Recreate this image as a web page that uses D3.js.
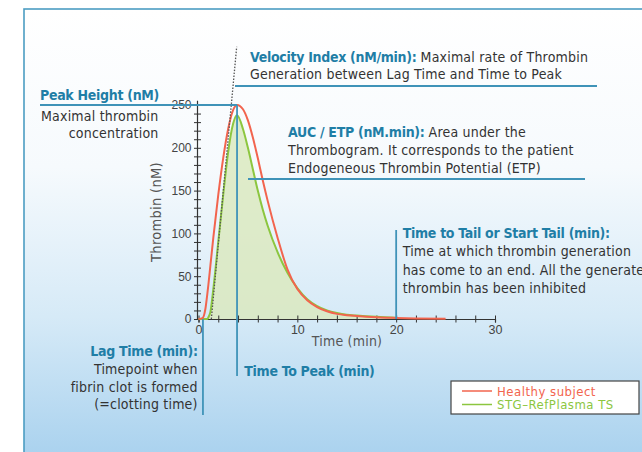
<!DOCTYPE html>
<html>
<head>
<meta charset="utf-8">
<script src="https://cdn.jsdelivr.net/npm/d3@7"></script>
<style>
  html, body { margin: 0; padding: 0; background: #fff; }
  svg { display: block; font-family: "DejaVu Sans Condensed", "DejaVu Sans", sans-serif; font-stretch: condensed; }
</style>
</head>
<body>
<script>
// thrombogram data (time in min, thrombin in nM)
const times = [0, 0.4, 0.7, 0.9, 1, 1.2, 1.5, 2, 2.5, 3, 3.5, 3.9, 4.5, 5, 5.5, 6, 6.5, 7, 8, 9, 10, 11, 12, 13, 14, 15, 16, 18, 20, 22, 25]
const healthy = [0, 1, 12, 30, 40, 62, 95, 145, 188, 222, 244, 250, 245, 232, 212, 188, 162, 138, 95, 58, 35, 22, 14, 9, 6, 4.5, 3.5, 2, 1.2, 0.6, 0.3]
const refPlasma = [0, 0, 0, 0, 2, 8, 35, 90, 145, 195, 228, 238, 222, 200, 175, 150, 128, 109, 78, 54, 36, 23, 15, 10, 7, 5, 4, 2.5, 1.5, null, null]
const xTicks = [0, 10, 20, 30]
const yTicks = [0, 50, 100, 150, 200, 250]
const legendLabels = ['Healthy subject', 'STG–RefPlasma TS']

// annotation values
const peakTime = 3.9
const peakHeight = 250
const lagTime = 0.45
const tailTime = 20
const velocity = { start: 1.3, slope: 124, top: 318 }

const W = 642, H = 452
const teal = '#1f7ea6'
const lineBlue = '#3f93b8'
const ink = '#333'
const red = '#f2644e'
const green = '#8cc63f'

const svg = d3.select('body').append('svg')
  .attr('width', W)
  .attr('height', H)

// background panel with gradient
const grad = svg.append('defs').append('linearGradient')
  .attr('id', 'bg').attr('x1', 0).attr('y1', 0).attr('x2', 0).attr('y2', 1)
grad.append('stop').attr('offset', '0').attr('stop-color', '#ffffff')
grad.append('stop').attr('offset', '0.35').attr('stop-color', '#f6fafd')
grad.append('stop').attr('offset', '0.68').attr('stop-color', '#d6eaf7')
grad.append('stop').attr('offset', '1').attr('stop-color', '#a8d1ee')

svg.append('rect')
  .attr('x', 24).attr('y', 9)
  .attr('width', W).attr('height', H)
  .attr('fill', 'url(#bg)')
  .attr('stroke', '#4c9dc2')
  .attr('stroke-width', 1.6)

const x = d3.scaleLinear().domain([0, 30]).range([198.5, 495])
const y = d3.scaleLinear().domain([0, 250]).range([319, 105])

// area under the reference curve
const pts = times.map((t, i) => ({ t, h: healthy[i], r: refPlasma[i] }))

svg.append('path')
  .datum(pts.filter(d => d.r != null))
  .attr('fill', '#dbe9bf')
  .attr('fill-opacity', 0.85)
  .attr('d', d3.area().curve(d3.curveMonotoneX).x(d => x(d.t)).y0(y(0)).y1(d => y(d.r)))

// axes
const xAxis = svg.append('g')
  .attr('transform', `translate(0,${y(0)})`)
  .call(d3.axisBottom(x).tickValues(d3.range(0, 31, 2)).tickSize(3.5)
    .tickFormat(d => xTicks.includes(d) ? d : ''))
xAxis.select('.domain').attr('stroke', '#333').attr('stroke-width', 1.2)
xAxis.selectAll('.tick line').attr('y1', -3.5).attr('stroke', '#333')
xAxis.selectAll('.tick text')
  .attr('y', 6).attr('font-size', 12.5).attr('fill', '#444')
  .attr('font-family', 'inherit')

const yAxis = svg.append('g')
  .attr('transform', `translate(${x(0) - 1},0)`)
  .call(d3.axisLeft(y).tickValues(d3.range(0, 251, 10)).tickSize(3.5).tickSizeOuter(0)
    .tickFormat(d => yTicks.includes(d) ? d : ''))
yAxis.select('.domain').attr('stroke', '#333').attr('stroke-width', 1.2)
  .attr('d', `M0,${y(0)}V${y(255)}`)
yAxis.selectAll('.tick line').attr('x2', 3.5).attr('x1', -3.5).attr('stroke', '#333')
yAxis.selectAll('.tick text')
  .attr('x', -6).attr('font-size', 12).attr('fill', '#444')
  .attr('font-family', 'inherit')

svg.append('text')
  .attr('x', 347).attr('y', 345.5)
  .attr('text-anchor', 'middle')
  .attr('font-size', 14).attr('letter-spacing', 0.2).attr('fill', '#555')
  .text('Time (min)')

svg.append('text')
  .attr('transform', `translate(161,212) rotate(-90)`)
  .attr('text-anchor', 'middle')
  .attr('font-size', 14.5).attr('letter-spacing', 0.3).attr('fill', '#555')
  .text('Thrombin (nM)')

// curves
const line = key => d3.line().curve(d3.curveMonotoneX)
  .defined(d => d[key] != null)
  .x(d => x(d.t)).y(d => y(d[key]))

svg.append('path').datum(pts)
  .attr('fill', 'none').attr('stroke', green).attr('stroke-width', 2)
  .attr('d', line('r'))
svg.append('path').datum(pts)
  .attr('fill', 'none').attr('stroke', red).attr('stroke-width', 2)
  .attr('d', line('h'))

// velocity index tangent
svg.append('line')
  .attr('x1', x(velocity.start)).attr('y1', y(0))
  .attr('x2', x(velocity.start + velocity.top / velocity.slope)).attr('y2', y(velocity.top))
  .attr('stroke', '#555').attr('stroke-width', 1.3)
  .attr('stroke-dasharray', '1.5,1.5')

// annotation lines
const ann = svg.append('g').attr('stroke', lineBlue).attr('stroke-width', 1.8)
ann.append('line') // peak height
  .attr('x1', 40).attr('x2', x(peakTime)).attr('y1', y(peakHeight)).attr('y2', y(peakHeight))
ann.append('line') // time to peak
  .attr('x1', x(peakTime)).attr('x2', x(peakTime)).attr('y1', y(peakHeight)).attr('y2', 376)
ann.append('line') // lag time
  .attr('x1', x(lagTime)).attr('x2', x(lagTime)).attr('y1', y(0)).attr('y2', 415)
ann.append('line') // time to tail
  .attr('x1', x(tailTime)).attr('x2', x(tailTime)).attr('y1', 230).attr('y2', y(0))
ann.append('line') // velocity underline
  .attr('x1', 235).attr('x2', 597).attr('y1', 86).attr('y2', 86)
ann.append('line') // auc underline
  .attr('x1', 248).attr('x2', 585).attr('y1', 179).attr('y2', 179)

// annotation text
function note(xp, yp, lines, anchor, lh) {
  const t = svg.append('text')
    .attr('x', xp).attr('y', yp)
    .attr('text-anchor', anchor || 'start')
    .attr('font-size', 14)
  lines.forEach((ln, i) => {
    ln.forEach((seg, j) => {
      const s = t.append('tspan').text(seg[0])
        .attr('fill', seg[1] ? teal : ink)
        .attr('font-weight', seg[1] ? 'bold' : 'normal')
        .attr('letter-spacing', seg[1] ? -0.3 : 0.2)
      if (j === 0) s.attr('x', xp).attr('dy', i === 0 ? 0 : lh)
    })
  })
}

note(40, 99.5, [[['Peak Height (nM)', 1]]], 'start', 17.5)
note(158.5, 120.5, [[['Maximal thrombin']], [['concentration']]], 'end', 17.2)
note(250, 61.5, [[['Velocity Index (nM/min): ', 1], ['Maximal rate of Thrombin']],
  [['Generation between Lag Time and Time to Peak']]], 'start', 17.8)
note(288, 137.3, [[['AUC / ETP (nM.min): ', 1], ['Area under the']],
  [['Thrombogram. It corresponds to the patient']],
  [['Endogeneous Thrombin Potential (ETP)']]], 'start', 17.7)
note(402.7, 238.3, [[['Time to Tail or Start Tail (min):', 1]],
  [['Time at which thrombin generation']],
  [['has come to an end. All the generated']],
  [['thrombin has been inhibited']]], 'start', 18.1)
note(197.7, 356, [[['Lag Time (min):', 1]], [['Timepoint when']],
  [['fibrin clot is formed']], [['(=clotting time)']]], 'end', 17.8)
note(244.3, 376, [[['Time To Peak (min)', 1]]], 'start', 17)

// legend
const legend = svg.append('g').attr('transform', 'translate(451,381)')
legend.append('rect')
  .attr('width', 188).attr('height', 33)
  .attr('fill', '#fff').attr('stroke', '#444').attr('stroke-width', 1.2)
legend.selectAll('.item')
  .data(legendLabels)
  .enter()
  .append('g')
  .attr('class', 'item')
  .attr('transform', (d, i) => `translate(0,${10 + i * 13.5})`)
  .each(function (d, i) {
    const c = i === 0 ? red : green
    const g = d3.select(this)
    g.append('line').attr('x1', 11).attr('x2', 41).attr('stroke', c).attr('stroke-width', 1.5)
    g.append('text').attr('x', 46).attr('y', 4.5)
      .attr('font-size', 13).attr('letter-spacing', 0.5).attr('fill', c).text(d)
  })
</script>
</body>
</html>
